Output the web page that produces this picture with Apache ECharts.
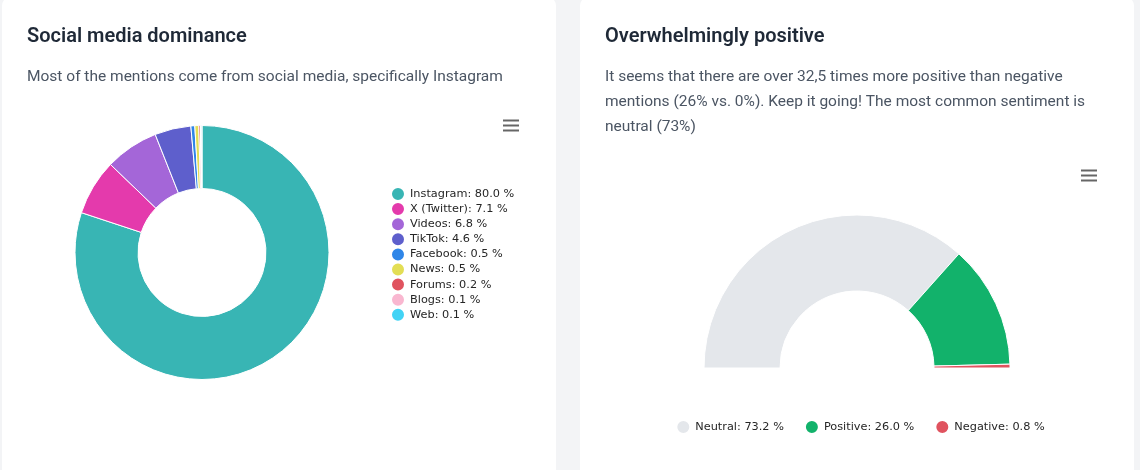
<!DOCTYPE html>
<html>
<head>
<meta charset="utf-8">
<script src="https://cdn.jsdelivr.net/npm/echarts@6/dist/echarts.min.js"></script>
<style>
  html, body { margin: 0; padding: 0; background: #f3f4f6; width: 1140px; height: 470px; overflow: hidden; }
  .card { position: absolute; top: -4px; width: 554px; height: 500px; background: #fff; border-radius: 10px; }
  .chart { position: absolute; top: 0; height: 470px; }
</style>
</head>
<body>
<div class="card" style="left:2px"></div>
<div class="card" style="left:580px"></div>
<div id="sources" class="chart" style="left:0;width:556px"></div>
<div id="sentiment" class="chart" style="left:580px;width:560px"></div>

<script>
// share of mentions per source (%)
const sourceNames = ['Instagram', 'X (Twitter)', 'Videos', 'TikTok', 'Facebook', 'News', 'Forums', 'Blogs', 'Web'];
const sourceValues = [80.0, 7.1, 6.8, 4.6, 0.5, 0.5, 0.2, 0.1, 0.1];
const sourceColors = ['#38b5b4', '#e43aac', '#a466d8', '#5e5fcc', '#2f86e8', '#e3de55', '#e0535f', '#f9b7d0', '#42d3f5'];

// sentiment split (%)
const sentimentNames = ['Neutral', 'Positive', 'Negative'];
const sentimentValues = [73.2, 26.0, 0.8];
const sentimentColors = ['#e4e7eb', '#12b26b', '#e0535f'];

const titleFont = 'Roboto, "Noto Sans", sans-serif';
const legendFont = '"DejaVu Sans", Verdana, sans-serif';

function pct(names, values) {
    return function (name) {
        const v = values[names.indexOf(name)];
        return name + ': ' + v.toFixed(1) + ' %';
    };
}

// the little "hamburger" export menu button
function menuButton(x, y) {
    return [0, 5, 10].map(dy => ({
        type: 'rect',
        shape: { x: x, y: y + dy, width: 16, height: 2 },
        style: { fill: '#666' }
    }));
}

let chart1 = echarts.init(document.getElementById('sources'));
chart1.setOption({
    animation: false,
    title: [
        {
            text: 'Social media dominance', left: 22, top: 22,
            textStyle: { fontFamily: titleFont, fontSize: 20, fontWeight: 600, color: '#1f2937' }
        },
        {
            text: 'Most of the mentions come from social media, specifically Instagram', left: 22, top: 64,
            textStyle: { fontFamily: titleFont, fontSize: 15.5, fontWeight: 400, color: '#4b5563' }
        }
    ],
    graphic: menuButton(503, 119.5),
    legend: {
        orient: 'vertical', left: 385, top: 181,
        icon: 'circle', itemWidth: 14, itemHeight: 14, itemGap: -0.9,
        data: sourceNames,
        formatter: pct(sourceNames, sourceValues),
        textStyle: { fontFamily: legendFont, fontSize: 11.3, lineHeight: 12, color: '#262626' }
    },
    series: [{
        type: 'pie',
        center: [202, 252.5],
        radius: [64, 127],
        startAngle: 90,
        label: { show: false },
        labelLine: { show: false },
        itemStyle: { borderColor: '#fff', borderWidth: 1 },
        data: sourceNames.map((n, i) => ({ name: n, value: sourceValues[i], itemStyle: { color: sourceColors[i] } }))
    }]
});

let chart2 = echarts.init(document.getElementById('sentiment'));
chart2.setOption({
    animation: false,
    title: [
        {
            text: 'Overwhelmingly positive', left: 20, top: 22,
            textStyle: { fontFamily: titleFont, fontSize: 20, fontWeight: 600, color: '#1f2937' }
        },
        {
            text: 'It seems that there are over 32,5 times more positive than negative\nmentions (26% vs. 0%). Keep it going! The most common sentiment is\nneutral (73%)',
            left: 20, top: 59.5,
            textStyle: { fontFamily: titleFont, fontSize: 15.5, fontWeight: 400, color: '#4b5563', lineHeight: 25 }
        }
    ],
    graphic: menuButton(1081 - 580, 169.5),
    legend: {
        orient: 'horizontal', left: 'center', top: 414,
        icon: 'circle', itemWidth: 14, itemHeight: 14, itemGap: 20,
        data: sentimentNames,
        formatter: pct(sentimentNames, sentimentValues),
        textStyle: { fontFamily: legendFont, fontSize: 11.3, lineHeight: 12, color: '#262626' }
    },
    series: [{
        type: 'pie',
        center: [277, 368],
        radius: [77, 153],
        startAngle: 180,
        endAngle: 0,
        label: { show: false },
        labelLine: { show: false },
        itemStyle: { borderColor: '#fff', borderWidth: 1 },
        data: sentimentNames.map((n, i) => ({ name: n, value: sentimentValues[i], itemStyle: { color: sentimentColors[i] } }))
    }]
});

window.addEventListener('resize', () => {
    chart1.resize();
    chart2.resize();
});
</script>
</body>
</html>
